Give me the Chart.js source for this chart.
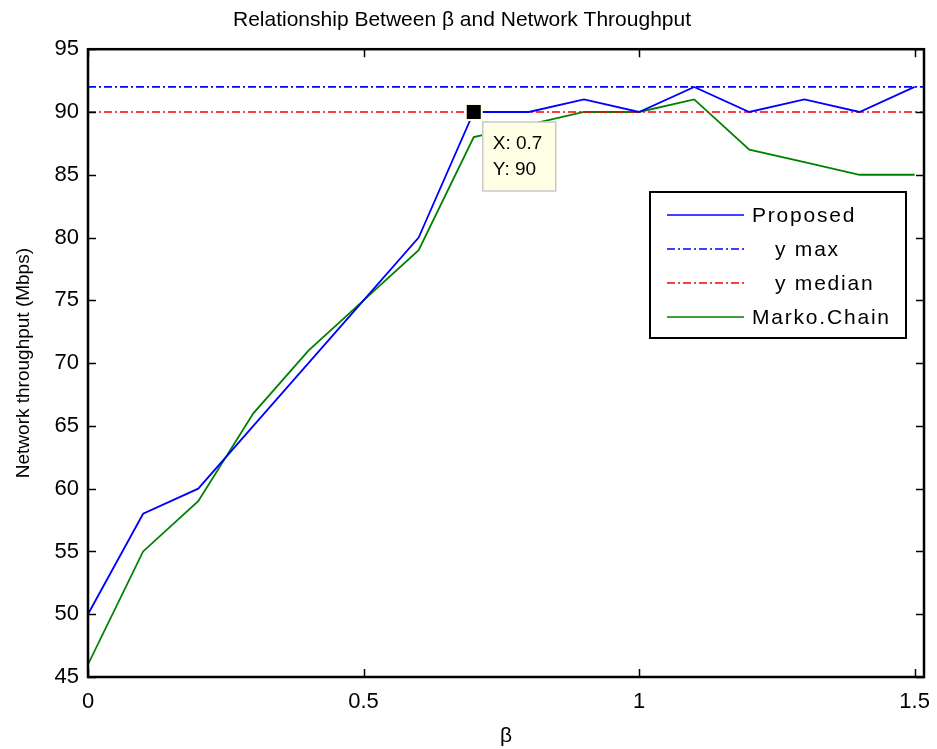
<!DOCTYPE html>
<html>
<head>
<meta charset="utf-8">
<script src="https://cdn.jsdelivr.net/npm/chart.js@4.4.1/dist/chart.umd.min.js"></script>
<style>
  html, body { margin: 0; padding: 0; background: #fff; }
  #wrap { width: 937px; height: 749px; }
</style>
</head>
<body>
<div id="wrap"><canvas id="chart-canvas"></canvas></div>
<script>
// values
const betaValues = [0, 0.1, 0.2, 0.3, 0.4, 0.5, 0.6, 0.7, 0.8, 0.9, 1.0, 1.1, 1.2, 1.3, 1.4, 1.5];
const proposedValues = [50, 58, 60, 65, 70, 75, 80, 90, 90, 91, 90, 92, 90, 91, 90, 92];
const markovValues = [46, 55, 59, 66, 71, 75, 79, 88, 89, 90, 90, 91, 87, 86, 85, 85];
const yMaxValue = 92;
const yMedianValue = 90;
const xLimits = [0, 1.517];
const yLimits = [45, 95];
const xTickValues = [0, 0.5, 1, 1.5];
const yTickValues = [45, 50, 55, 60, 65, 70, 75, 80, 85, 90, 95];
const seriesLabels = ["Proposed", "   y max", "   y median", "Marko.Chain"];
const dataTip = { x: 0.7, y: 90 };

const FONT = "'Liberation Sans', Arial, sans-serif";
const dashDot = [8, 3, 2, 3];

function toPoints(xs, ys) {
    return xs.map((x, i) => ({ x: x, y: ys[i] }));
}

const datasets = [
    { label: seriesLabels[0], data: toPoints(betaValues, proposedValues), borderColor: "#0000ff", borderWidth: 1.8 },
    { label: seriesLabels[1], data: toPoints(xLimits, [yMaxValue, yMaxValue]), borderColor: "#0000ff", borderWidth: 1.6, borderDash: dashDot },
    { label: seriesLabels[2], data: toPoints(xLimits, [yMedianValue, yMedianValue]), borderColor: "#ff0000", borderWidth: 1.6, borderDash: dashDot },
    { label: seriesLabels[3], data: toPoints(betaValues, markovValues), borderColor: "#008000", borderWidth: 1.8 }
];

// box, inward ticks, legend and data tip in MATLAB style
const matlabDecor = {
    id: "matlabDecor",
    afterDatasetsDraw(chart) {
        const ctx = chart.ctx;
        const a = chart.chartArea;
        const xs = chart.scales.x, ys = chart.scales.y;
        ctx.save();
        ctx.strokeStyle = "#000";
        ctx.lineWidth = 1.5;
        const tl = 8;
        ctx.beginPath();
        xTickValues.forEach(v => {
            const px = Math.round(xs.getPixelForValue(v)) + 0.5;
            ctx.moveTo(px, a.bottom); ctx.lineTo(px, a.bottom - tl);
            ctx.moveTo(px, a.top); ctx.lineTo(px, a.top + tl);
        });
        yTickValues.forEach(v => {
            const py = Math.round(ys.getPixelForValue(v)) + 0.5;
            ctx.moveTo(a.left, py); ctx.lineTo(a.left + tl, py);
            ctx.moveTo(a.right, py); ctx.lineTo(a.right - tl, py);
        });
        ctx.stroke();
        ctx.lineWidth = 2.5;
        ctx.strokeRect(a.left, a.top, a.right - a.left, a.bottom - a.top);

        // legend box
        const lx = 650, ly = 192, lw = 256, lh = 146;
        ctx.fillStyle = "#fff";
        ctx.fillRect(lx, ly, lw, lh);
        ctx.lineWidth = 2;
        ctx.strokeRect(lx, ly, lw, lh);
        ctx.font = "21px " + FONT;
        ctx.letterSpacing = "1.8px";
        ctx.textBaseline = "middle";
        chart.data.datasets.forEach((ds, i) => {
            const ry = ly + 23 + i * 34;
            ctx.beginPath();
            ctx.strokeStyle = ds.borderColor;
            ctx.lineWidth = 1.5;
            ctx.setLineDash(ds.borderDash || []);
            ctx.moveTo(lx + 17, ry); ctx.lineTo(lx + 94, ry);
            ctx.stroke();
            ctx.setLineDash([]);
            ctx.fillStyle = "#000";
            ctx.fillText(ds.label, lx + 102, ry + 1);
        });
        ctx.letterSpacing = "0px";

        // data tip
        const tx = xs.getPixelForValue(dataTip.x), ty = ys.getPixelForValue(dataTip.y);
        ctx.fillStyle = "#ffffe1";
        ctx.fillRect(tx - 9, ty - 9, 18, 18);
        ctx.fillStyle = "#000";
        ctx.fillRect(tx - 7, ty - 7, 14, 14);
        const bx = tx + 9, by = ty + 10;
        ctx.fillStyle = "#ffffe6";
        ctx.fillRect(bx, by, 73, 69);
        ctx.strokeStyle = "#c8c8c8";
        ctx.lineWidth = 1.5;
        ctx.strokeRect(bx, by, 73, 69);
        ctx.fillStyle = "#000";
        ctx.font = "19px " + FONT;
        ctx.fillText("X: " + dataTip.x, bx + 10, by + 22);
        ctx.fillText("Y: " + dataTip.y, bx + 10, by + 48);
        ctx.restore();
    }
};

new Chart("chart-canvas", {
    type: "line",
    data: { datasets: datasets },
    options: {
        responsive: true,
        maintainAspectRatio: false,
        animation: false,
        layout: { padding: { top: 0, right: 13, bottom: 0, left: 0 } },
        elements: { point: { radius: 0 }, line: { tension: 0 } },
        plugins: {
            legend: { display: false },
            tooltip: { enabled: false },
            title: {
                display: true,
                text: "Relationship Between β and Network Throughput",
                color: "#000",
                font: { family: FONT, size: 21, weight: "normal" },
                padding: { top: 8, bottom: 16 }
            }
        },
        scales: {
            x: {
                type: "linear",
                min: xLimits[0],
                max: xLimits[1],
                afterBuildTicks: s => { s.ticks = xTickValues.map(v => ({ value: v })); },
                afterFit: s => { s.height = 72; s.paddingLeft = 0; s.paddingRight = 0; },
                grid: { display: false, drawTicks: false },
                border: { display: false },
                ticks: {
                    color: "#000", padding: 12, maxRotation: 0,
                    font: { family: FONT, size: 22 },
                    callback: v => String(v)
                },
                title: { display: true, text: "β", color: "#000", padding: 0, font: { family: FONT, size: 21 } }
            },
            y: {
                min: yLimits[0],
                max: yLimits[1],
                afterBuildTicks: s => { s.ticks = yTickValues.map(v => ({ value: v })); },
                afterFit: s => { s.width = 88; s.paddingTop = 0; s.paddingBottom = 0; },
                grid: { display: false, drawTicks: false },
                border: { display: false },
                ticks: { color: "#000", padding: 9, font: { family: FONT, size: 22 } },
                title: { display: true, text: "Network throughput (Mbps)", color: "#000", padding: { top: 12, bottom: 0 }, font: { family: FONT, size: 19 } }
            }
        }
    },
    plugins: [matlabDecor]
});
</script>
</body>
</html>
